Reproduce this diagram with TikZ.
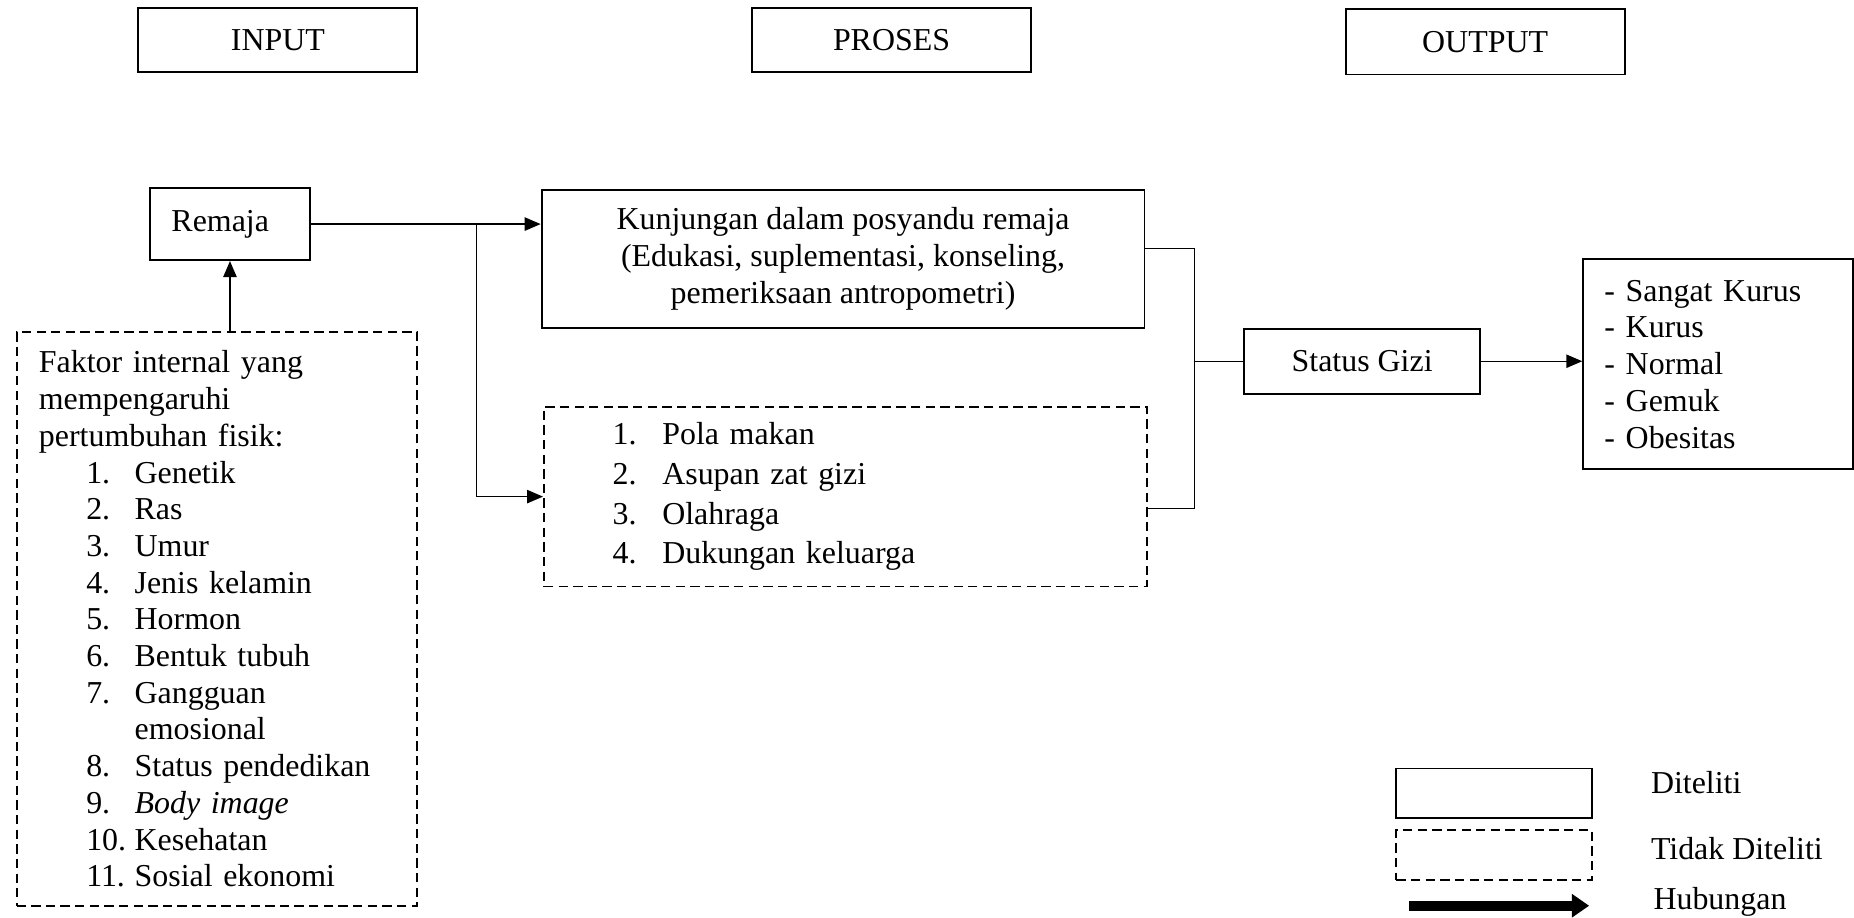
\documentclass[tikz,border=0pt]{standalone}
\usepackage{fontspec}
\setmainfont{Liberation Serif}
\usetikzlibrary{positioning,arrows.meta}
\newcommand{\fitem}[2]{\hspace*{17.8pt}\makebox[18.2pt][l]{#1}#2}
\newcommand{\litem}[2]{\hspace*{25.8pt}\makebox[18.7pt][l]{#1}#2}
\tikzset{
  box/.style={rectangle, draw=black, line width=0.7pt, align=center,
              inner sep=0pt, font=\fontsize{12}{13.8}\selectfont},
  dbox/.style={box, dash pattern=on 3.5pt off 2pt},
  ar/.style={-{Triangle[length=6pt,width=5pt]}, line width=0.55pt},
  ln/.style={line width=0.55pt},
  hub/.style={-{Triangle[length=6.5pt,width=8.5pt]}, line width=3.6pt},
  lbl/.style={inner sep=0pt, font=\fontsize{12}{13.8}\selectfont},
}

\begin{document}
\begin{tikzpicture}[x=0.4446pt, y=-0.4446pt]
  \useasboundingbox (0,0) rectangle (1568,776);

  % headers
  \node[box, minimum width=104.9pt, minimum height=24pt] (hin) at (235,34) {INPUT};
  \node[box, minimum width=104.9pt, minimum height=24pt] (hpr) at (754,34) {PROSES};
  \node[box, minimum width=104.9pt, minimum height=24.5pt] (hout) at (1256,35.5) {OUTPUT};

  % input
  \node[box, minimum width=60pt, minimum height=27.1pt, text width=44pt,
        inner xsep=8pt, align=left] (rem) at (194.5,189.5) {Remaja};
  \node[dbox, minimum width=150.7pt, minimum height=215.6pt, text width=133.9pt,
        inner xsep=8.4pt, align=left] (fak) at (183.5,523.5)
       {Faktor internal yang\\mempengaruhi\\pertumbuhan fisik:\\
        \fitem{1.}{Genetik}\\\fitem{2.}{Ras}\\\fitem{3.}{Umur}\\
        \fitem{4.}{Jenis kelamin}\\\fitem{5.}{Hormon}\\\fitem{6.}{Bentuk tubuh}\\
        \fitem{7.}{Gangguan}\\\hspace*{36pt}emosional\\
        \fitem{8.}{Status pendedikan}\\\fitem{9.}{\textit{Body image}}\\
        \fitem{10.}{Kesehatan}\\\fitem{11.}{Sosial ekonomi}};

  % proses
  \node[box, minimum width=226.7pt, minimum height=51.6pt] (kun) at (713,219)
       {Kunjungan dalam posyandu remaja\\(Edukasi, suplementasi, konseling,\\pemeriksaan antropometri)};
  \node[dbox, minimum width=226.7pt, minimum height=67.6pt, text width=226.7pt,
        align=left, font=\fontsize{12}{14.9}\selectfont] (lst) at (715,420)
       {\litem{1.}{Pola makan}\\\litem{2.}{Asupan zat gizi}\\
        \litem{3.}{Olahraga}\\\litem{4.}{Dukungan keluarga}};

  % output
  \node[box, minimum width=88.9pt, minimum height=24.5pt] (gizi) at (1152,305.5) {Status Gizi};
  \node[box, minimum width=101.4pt, minimum height=79.1pt, text width=85.4pt,
        inner xsep=8pt, align=left] (kat) at (1453,308)
       {- Sangat Kurus\\- Kurus\\- Normal\\- Gemuk\\- Obesitas};

  % connectors
  \coordinate (split) at (403,189.5);
  \coordinate (jx) at (1010,305.5);
  \draw[ar] (rem.east) -- (rem.east -| kun.west);
  \draw[ar] (split) |- (lst.west);
  \draw[ar] (rem.south |- fak.north) -- (rem.south);
  \draw[ln] ([yshift=4pt]kun.east) -| (jx) |- ([yshift=-4.4pt]lst.east);
  \draw[ln] (jx) -- (gizi.west);
  \draw[ar] (gizi.east) -- (gizi.east -| kat.west);

  % legend
  \node[box, minimum width=73.4pt, minimum height=18.7pt] (leg1) at (1263.5,671) {};
  \node[dbox, minimum width=73.4pt, minimum height=18.7pt] (leg2) at (1263.5,723) {};
  \coordinate (h1) at (1192,766);
  \coordinate (h2) at (1344,766);
  \draw[hub] (h1) -- (h2);
  \node[lbl, right=21.8pt of leg1, yshift=4pt] (t1) {Diteliti};
  \node[lbl, right=21.8pt of leg2, yshift=2.5pt] (t2) {Tidak Diteliti};
  \node[lbl, right=24pt of h2, yshift=1.5pt] (t3) {Hubungan};
\end{tikzpicture}
\end{document}
